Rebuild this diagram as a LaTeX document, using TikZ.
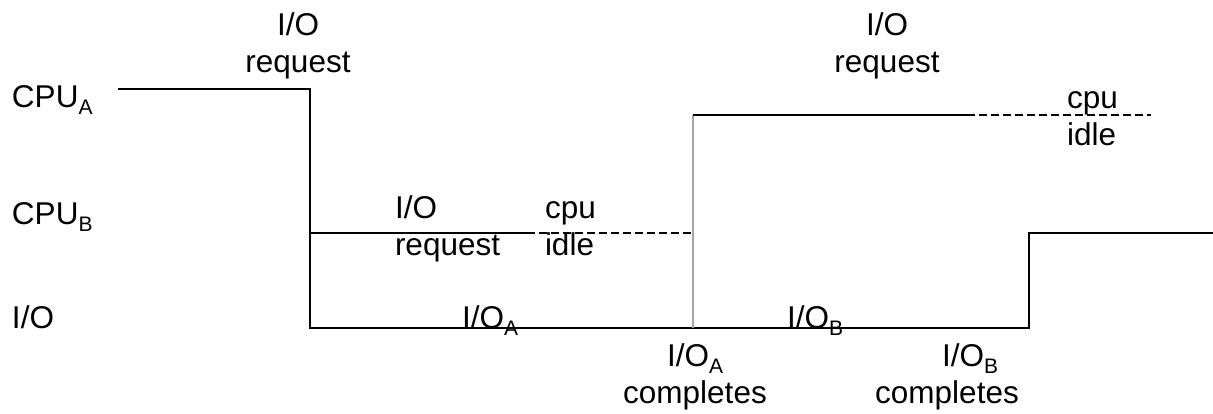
\documentclass[tikz,border=0pt]{standalone}
\usepackage{fontspec}
\setmainfont{Liberation Sans}
\definecolor{trackgray}{RGB}{165,165,165}
\newcommand{\lowsub}[1]{\raisebox{-7.5pt}{\fontsize{21}{21}\selectfont #1}}
\begin{document}
\begin{tikzpicture}[x=1pt,y=-1pt,
  every node/.style={inner sep=0pt,outer sep=0pt,font=\fontsize{31.5}{37}\selectfont},
  track/.style={line width=1.9pt,line join=miter},
  idletrack/.style={line width=1.6pt,dash pattern=on 8pt off 4pt},
  switchline/.style={line width=1.5pt,draw=trackgray}]
\useasboundingbox (0,0) rectangle (1213,413);

% row labels
\node[anchor=base west] (lcpua) at (12,107) {CPU\lowsub{A}};
\node[anchor=base west] (lcpub) at (12,224) {CPU\lowsub{B}};
\node[anchor=base west] (lio)   at (12,328) {I/O};

% time points on the tracks
\coordinate (a0) at (118,89);
\coordinate (a1) at (310,89);
\coordinate (b0) at (310,233);
\coordinate (b1) at (527,233);
\coordinate (b2) at (693,233);
\coordinate (io0) at (310,328);
\coordinate (ioa) at (693,328);
\coordinate (io1) at (1029,328);
\coordinate (b3) at (1029,233);
\coordinate (b4) at (1213,233);
\coordinate (a2) at (693,115);
\coordinate (a3) at (967,115);
\coordinate (a4) at (1151,115);

% A runs, then waits on I/O while B runs
\draw[track] (a0) -- (a1) -- (io0) -- (io1) -- (b3) -- (b4);
\draw[track] (b0) -- (b1);
\draw[idletrack] (b1) -- (b2);
% A resumes when its I/O completes
\draw[switchline] (ioa) -- (a2);
\draw[track] (a2) -- (a3);
\draw[idletrack] (a3) -- (a4);

% event labels (anchored on the baseline of their last line)
\node[anchor=base,align=center] (req1) at (298,72) {I/O\\request};
\node[anchor=base,align=center] (req2) at (887,72) {I/O\\request};
\node[anchor=base west,align=left] (req3) at (395,255) {I/O\\request};
\node[anchor=base west,align=left] (idle1) at (545,255) {cpu\\idle};
\node[anchor=base west,align=left] (idle2) at (1067,145) {cpu\\idle};
\node[anchor=base west] (ioalab) at (462,328) {I/O\lowsub{A}};
\node[anchor=base west] (ioblab) at (787,328) {I/O\lowsub{B}};
\node[anchor=base,align=center] (doneA) at (695,403) {I/O\lowsub{A}\\completes};
\node[anchor=base,align=center] (doneB) at (947,403) {\hspace*{46pt}I/O\lowsub{B}\\completes};
\end{tikzpicture}
\end{document}
